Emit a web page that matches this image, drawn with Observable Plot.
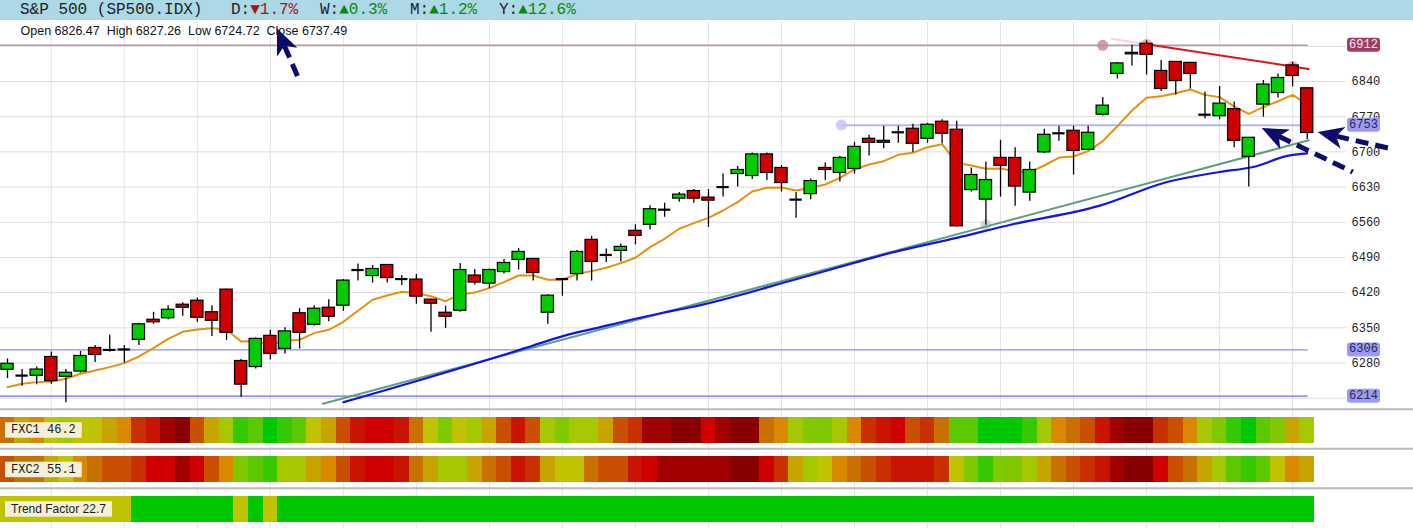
<!DOCTYPE html>
<html><head><meta charset="utf-8">
<script src="https://cdn.jsdelivr.net/npm/d3@7"></script>
<script src="https://cdn.jsdelivr.net/npm/@observablehq/plot@0.6"></script>
<style>
html,body{margin:0;padding:0;background:#fff;}
body{width:1413px;height:528px;overflow:hidden;font-family:"Liberation Sans",Arial,sans-serif;}
#hdr{position:relative;height:20px;background:#add8e6;font-family:"Liberation Mono","DejaVu Sans Mono",monospace;font-size:16px;line-height:20px;color:#222;}
#hdr span{position:absolute;top:0;white-space:pre;}
.dn{color:#a31515}.up{color:#0a8a0a}
svg{display:block}
</style></head><body>
<div id="hdr"></div>
<div id="main"></div>
<div id="strips"></div>
<script>
// ================= DATA =================
const symbolTitle = "S&P 500 (SP500.IDX)";
const periodLabels = ["D", "W", "M", "Y"];
const periodDir = ["down", "up", "up", "up"];
const periodChange = ["1.7%", "0.3%", "1.2%", "12.6%"];
const ohlcLabels = ["Open", "High", "Low", "Close"];
const ohlcValues = ["6826.47", "6827.26", "6724.72", "6737.49"];

const open = [6266.5,6255,6254.6,6292,6252.6,6263,6310,6306,6307,6326,
6366,6369,6396,6404,6381,6426,6284,6272,6334,6308,
6379,6356,6390,6394,6465,6453,6475,6447,6446,6406,
6380,6384,6454,6438,6461,6485,6487,6380,6447,6457,
6525,6495,6503,6543,6555,6585,6607,6622,6609,6630,
6656,6652,6695,6668,6605,6616,6668,6658,6666,6726,
6722,6739,6746,6726,6760,6744,6624,6605,6688,6688,
6619,6699,6737,6742,6704,6774,6855,6897,6915,6861,
6879,6877,6774,6771,6785,6690,6794,6817,6872,6826.47];
const high = [6288,6267,6272,6302,6267,6303,6315,6335,6315,6359,
6381,6394,6400,6409,6394,6427,6287,6330,6345,6350,
6388,6394,6406,6446,6477,6474,6476,6454,6456,6407,
6393,6478,6466,6467,6486,6508,6488,6416,6448,6504,
6532,6507,6517,6555,6593,6598,6619,6625,6625,6656,
6671,6698,6698,6673,6619,6646,6678,6691,6719,6733,
6751,6751,6755,6757,6764,6761,6668,6680,6723,6708,
6680,6745,6751,6751,6751,6808,6878,6912,6921,6882,
6880,6878,6819,6830,6799,6728,6842,6855,6878,6827.26];
const low = [6249,6234,6237,6238,6201,6260,6281,6302,6280,6315,
6357,6366,6373,6361,6333,6325,6212,6268,6286,6298,
6308,6353,6362,6383,6443,6439,6439,6434,6397,6341,
6349,6381,6435,6428,6457,6465,6443,6357,6413,6443,
6443,6480,6481,6515,6545,6570,6600,6598,6550,6610,
6630,6645,6643,6620,6568,6605,6643,6640,6656,6692,
6706,6717,6699,6717,6716,6550,6620,6554,6610,6592,
6602,6697,6721,6654,6703,6771,6845,6871,6853,6820,
6813,6825,6766,6764,6708,6630,6769,6807,6829,6724.72];
const close = [6278.5,6255,6267,6244,6260.6,6294,6296,6306,6307,6357,
6361,6386,6390,6370,6364,6340,6237,6328,6298,6343,
6340,6388,6372,6444,6465,6467,6449,6447,6412,6398,
6372,6465,6440,6465,6479,6501,6459,6414,6447,6501,
6481,6495,6511,6533,6586,6585,6615,6607,6603,6630,
6664,6695,6658,6638,6605,6642,6664,6688,6710,6718,
6718,6739,6716,6754,6736,6552,6654,6644,6672,6631,
6664,6734,6737,6702,6738,6792,6876,6894,6893,6825,
6841,6855,6774,6796,6722,6728,6834,6847,6851,6737.49];

// fast moving average (orange), one reading per candle
const fastMA = [6232,6238.7,6242,6243.3,6248.6,6258.6,6265.2,6271.8,6279.8,6293,
6309.6,6328.2,6342.1,6346.8,6349.4,6346.1,6322.9,6323.6,6316.9,6323.6,
6326.2,6339.5,6346.1,6362,6384,6405.8,6414.4,6421.7,6419,6413,
6403,6416.4,6420.3,6429,6440.9,6454.1,6454.1,6445.5,6445.5,6457.5,
6462.8,6469.4,6478.7,6489.3,6510.5,6527.1,6547,6558.2,6568.8,6583.4,
6600,6621.2,6628.5,6629.2,6623.2,6628.5,6635.1,6648.4,6665,6674.9,
6681.5,6694.1,6698.1,6709.4,6715.3,6678.2,6672.9,6666.3,6667,6661.6,
6659.6,6672.9,6688.8,6690.8,6701.4,6721.3,6751.1,6782.3,6807.5,6810.8,
6816.8,6824,6813.4,6808.8,6790.2,6775.6,6788.9,6800.8,6813.4,6794.2];

// slow moving average (blue), readings at sampled positions
const slowMAIndex = [23.0,24.2,34.6,35.8,38.1,40.4,42.7,44.9,46.8,54.3,60.9,65.0,68.7,74.8,79.4,83.0,85.3,87.8,89.0];
const slowMAValue = [6202,6212,6302,6313,6334,6350,6366,6380,6391,6449,6502,6529,6555,6593,6640,6660,6670,6693,6697];

// trend lines
const supportIndex = [21.6, 89.1];
const supportValue = [6199, 6723];
const resistIndex = [78, 89.1];
const resistValue = [6914, 6865];
const resistExtIndex = [75.6, 78];
const resistExtValue = [6925, 6914];

// horizontal levels
const levelValues = [6912, 6753, 6306, 6214];
const levelStart = [-0.48, 57.1, -0.48, -0.48];
const levelEnd = [89.07, 89.07, 89.07, 89.07];

// pivot markers
const pivotIndex = [75, 78, 88, 57.1, 67];
const pivotValue = [6912, 6914, 6870, 6753.5, 6555];

// axis
const yTicks = [6280, 6350, 6420, 6490, 6560, 6630, 6700, 6770, 6840];
const yGrid = [6210, 6280, 6350, 6420, 6490, 6560, 6630, 6700, 6770, 6840, 6910];
const xGrid = [3, 8, 13, 18, 23, 28, 33, 38, 43, 48, 53, 58, 63, 68, 73, 78, 83, 88];

// annotation arrows (tip / tail, in candle index & price)
const arrowTipIndex = [18.48, 89.75, 85.92];
const arrowTipValue = [6945, 6738.6, 6746.5];
const arrowTailIndex = [19.92, 94.88, 92.15];
const arrowTailValue = [6848, 6704.7, 6659];

// indicator strips (level 0 = deepest red ... 14 = full green)
const fxc1 = [6,8,7,9,10,9,9,8,7,4, 3,1,0,5,8,10,13,12,14,13,
12,9,8,5,3,2,2,3,6,9, 11,9,10,8,5,3,5,10,11,10,
10,8,5,4,1,1,0,0,2,1, 0,0,6,7,10,11,11,10,7,4,
3,2,5,4,6,12,12,14,14,14, 13,10,7,6,5,3,1,0,0,4,
5,7,10,11,13,14,12,11,8,10];
const fxc2 = [5,6,6,8,9,7,6,5,5,4, 2,2,1,2,5,7,11,12,13,10,
10,8,7,5,3,2,2,3,6,8, 10,10,8,6,5,3,4,8,9,9,
6,5,5,3,2,1,1,1,1,1, 0,0,2,4,8,10,9,7,6,5,
4,3,3,3,4,9,11,13,11,11, 10,8,6,5,4,3,1,0,0,2,
5,6,8,10,12,13,12,9,7,8];
const trendFactor = [9,9,9,9,9,9,9,9,9,14, 14,14,14,14,14,14,9,14,9,14,
14,14,14,14,14,14,14,14,14,14, 14,14,14,14,14,14,14,14,14,14,
14,14,14,14,14,14,14,14,14,14, 14,14,14,14,14,14,14,14,14,14,
14,14,14,14,14,14,14,14,14,14, 14,14,14,14,14,14,14,14,14,14,
14,14,14,14,14,14,14,14,14,14];
const stripNames = ["FXC1 46.2", "FXC2 55.1", "Trend Factor 22.7"];

// ================= STYLE =================
const palette = ["#880000","#a00000","#d00000","#c81400","#c83000","#c85000","#c87000","#da8800",
                 "#c8a400","#c0c400","#a6c800","#80c800","#5cc800","#36c800","#00c800"];
const upColor = "#00cc00", downColor = "#d00000";
const levelColors = ["#b996a8", "#b6b6f6", "#8c8cf0", "#6e6ed8"];
const levelWidths = [1.6, 2, 1.2, 1.2];
const pivotColors = ["#c58aa2", "#f4a0a0", "#f4a0a0", "#c4c4f4", "#cfcfcf"];
const badgeFill = ["#9c3d66", "#9b9bf0", "#9b9bf0", "#9b9bf0"];
const badgeText = ["#f6e6ee", "#26265e", "#26265e", "#26265e"];
const navy = "#0c0c6c";

// ================= HEADER =================
const hdr = d3.select("#hdr");
hdr.append("span").style("left", "20px").text(symbolTitle);
const periodLeft = [231, 320, 410, 499];
periodLabels.forEach((p, k) => {
  const s = hdr.append("span").style("left", periodLeft[k] + "px");
  s.append("tspan").text(p + ":");
  s.append("span").style("position", "static").attr("class", periodDir[k] === "down" ? "dn" : "up")
    .text((periodDir[k] === "down" ? "\u25BC" : "\u25B2") + periodChange[k]);
});

// ================= MAIN CHART =================
const candles = d3.range(open.length).map(i => ({i, open: open[i], high: high[i], low: low[i], close: close[i]}));
const bodies = candles.filter(d => d.open !== d.close);
const dojis = candles.filter(d => d.open === d.close);
const fast = fastMA.map((v, i) => ({i, v}));
const slow = slowMAIndex.map((i, k) => ({i, v: slowMAValue[k]}));
const support = supportIndex.map((i, k) => ({i, v: supportValue[k]}));
const resist = resistIndex.map((i, k) => ({i, v: resistValue[k]}));
const resistExt = resistExtIndex.map((i, k) => ({i, v: resistExtValue[k]}));
const levels = levelValues.map((v, k) => ({v, i1: levelStart[k], i2: levelEnd[k], k}));
const pivots = pivotIndex.map((i, k) => ({i, v: pivotValue[k], k}));
const ohlcLine = ohlcLabels.map((l, k) => l + " " + ohlcValues[k]).join("  ");

const xScale = {domain: [0, 89], range: [7, 1306.7]};

function badgesMark(index, scales) {
  const g = d3.create("svg:g");
  levelValues.forEach((v, k) => {
    const y = scales.y(v);
    g.append("rect").attr("x", 1347).attr("y", y - 7).attr("width", 33).attr("height", 14)
      .attr("rx", 3).attr("fill", badgeFill[k]);
    g.append("text").attr("x", 1363.5).attr("y", y).attr("text-anchor", "middle")
      .attr("dominant-baseline", "central").attr("font-family", "Liberation Mono, monospace")
      .attr("font-size", 12).attr("fill", badgeText[k]).text(String(v));
  });
  return g.node();
}

function arrowsMark(index, scales) {
  const g = d3.create("svg:g");
  arrowTipIndex.forEach((ti, k) => {
    const tx = scales.x(ti), ty = scales.y(arrowTipValue[k]);
    const bx = scales.x(arrowTailIndex[k]), by = scales.y(arrowTailValue[k]);
    const dx = tx - bx, dy = ty - by, len = Math.hypot(dx, dy);
    const ux = dx / len, uy = dy / len, px = -uy, py = ux;
    const L = 26, Wd = 11, N = 7;
    const cx = tx - ux * L, cy = ty - uy * L;
    const nx = tx - ux * (L - N), ny = ty - uy * (L - N);
    g.append("line").attr("x1", nx).attr("y1", ny).attr("x2", bx).attr("y2", by)
      .attr("stroke", navy).attr("stroke-width", 5).attr("stroke-dasharray", "13,7");
    g.append("path").attr("d", `M${tx},${ty}L${cx + px * Wd},${cy + py * Wd}L${nx},${ny}L${cx - px * Wd},${cy - py * Wd}Z`)
      .attr("fill", navy);
  });
  return g.node();
}

const main = Plot.plot({
  width: 1413,
  height: 389,
  marginTop: 2, marginBottom: 0, marginLeft: 0, marginRight: 67,
  x: {...xScale, axis: null},
  y: {domain: [6214, 6912], range: [375.7, 24.8], axis: null},
  color: {type: "identity"},
  style: {fontFamily: "Liberation Mono, monospace", fontSize: "12px", color: "#222", background: "transparent", overflow: "visible"},
  marks: [
    Plot.gridY(yGrid, {stroke: "#dcdcdc", strokeOpacity: 1}),
    Plot.gridX(xGrid, {stroke: "#e3e3ec", strokeOpacity: 1}),
    Plot.ruleY(levels, {y: "v", x1: "i1", x2: "i2", stroke: d => levelColors[d.k], strokeWidth: d => levelWidths[d.k]}),
    Plot.dot(pivots, {x: "i", y: "v", r: 5.5, fill: d => pivotColors[d.k], fillOpacity: 0.85}),
    Plot.line(support, {x: "i", y: "v", stroke: "#5f9e80", strokeWidth: 2}),
    Plot.line(slow, {x: "i", y: "v", stroke: "#1414e6", strokeWidth: 2.2, curve: "monotone-x"}),
    Plot.line(resistExt, {x: "i", y: "v", stroke: "#f07070", strokeWidth: 2, strokeOpacity: 0.3}),
    Plot.line(resist, {x: "i", y: "v", stroke: "#e01515", strokeWidth: 2}),
    Plot.line(fast, {x: "i", y: "v", stroke: "#e8900c", strokeWidth: 2}),
    Plot.ruleX(candles, {x: "i", y1: "low", y2: "high", stroke: "#000", strokeWidth: 1.3}),
    Plot.rect(bodies, {x1: d => d.i - 0.42, x2: d => d.i + 0.42, y1: "open", y2: "close",
      fill: d => d.close > d.open ? upColor : downColor, stroke: "#000", strokeWidth: 1.2}),
    Plot.ruleY(dojis, {y: "close", x1: d => d.i - 0.42, x2: d => d.i + 0.42, stroke: "#000", strokeWidth: 2.2}),
    Plot.axisY(yTicks, {anchor: "right", tickSize: 0, tickPadding: 5, fontSize: 12, fill: "#222", tickFormat: d => String(d)}),
    Plot.text([ohlcLine], {frameAnchor: "top-left", dx: 20, dy: 4, lineAnchor: "top", textAnchor: "start",
      fontFamily: "Liberation Sans, Arial, sans-serif", fontSize: 12.5, fill: "#111"}),
    badgesMark,
    arrowsMark
  ]
});
document.getElementById("main").appendChild(main);

// ================= STRIPS =================
const stripSeries = [fxc1, fxc2, trendFactor];
const cells = stripSeries.flatMap((s, row) => s.map((level, i) => ({i, row, level})));
const bandFrac = 0.66;
const canvas = document.createElement("canvas").getContext("2d");

function separatorsMark(index, scales, values, dims) {
  const g = d3.create("svg:g");
  stripSeries.forEach((s, r) => {
    const y = scales.y(r) - 7.5;
    g.append("line").attr("x1", 0).attr("x2", dims.width).attr("y1", y).attr("y2", y)
      .attr("stroke", "#bbbbbb").attr("stroke-width", 2);
  });
  return g.node();
}
function stripLabelsMark(index, scales) {
  const g = d3.create("svg:g");
  stripNames.forEach((name, r) => {
    const yc = scales.y(r + bandFrac / 2);
    const mono = r < 2;
    const family = mono ? "Liberation Mono, monospace" : "Liberation Sans, Arial, sans-serif";
    canvas.font = (mono ? "12px 'Liberation Mono'" : "12px 'Liberation Sans'");
    const w = canvas.measureText(name).width;
    g.append("rect").attr("x", 5).attr("y", yc - 7.5).attr("width", w + 12).attr("height", 15.5).attr("fill", "#f4f0d8");
    g.append("text").attr("x", 11).attr("y", yc + 0.5).attr("dominant-baseline", "central")
      .attr("text-anchor", "start").attr("font-family", family).attr("font-size", 12)
      .attr("fill", "#1a1a1a").text(name);
  });
  return g.node();
}

const strips = Plot.plot({
  width: 1413,
  height: 119,
  marginTop: 0, marginBottom: 0, marginLeft: 0, marginRight: 0,
  x: {...xScale, axis: null},
  y: {domain: [0, 2 + bandFrac], range: [7.7, 112.7], axis: null},
  color: {type: "identity"},
  style: {background: "transparent", overflow: "visible"},
  marks: [
    Plot.gridX(xGrid, {stroke: "#e3e3ec", strokeOpacity: 1}),
    separatorsMark,
    Plot.rect(cells, {x1: d => d.i - 0.5, x2: d => d.i + 0.5, y1: "row", y2: d => d.row + bandFrac,
      fill: d => palette[d.level], shapeRendering: "crispEdges"}),
    stripLabelsMark
  ]
});
document.getElementById("strips").appendChild(strips);
</script>
</body></html>
